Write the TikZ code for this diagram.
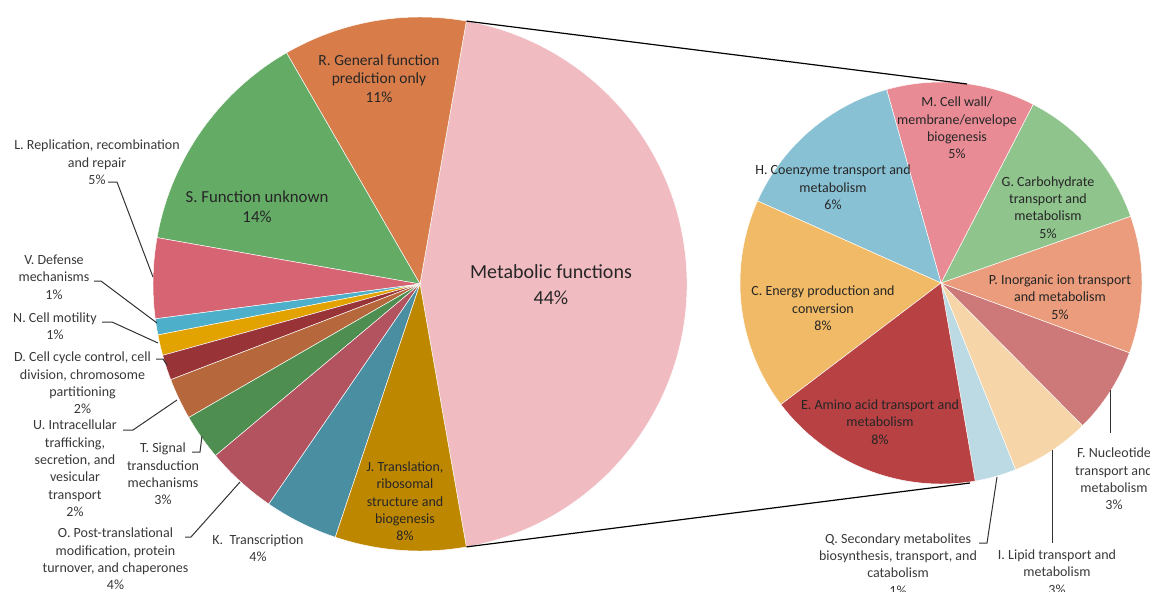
\documentclass[tikz,border=0pt]{standalone}
\usepackage{fontspec}
\setmainfont{Carlito}
\definecolor{cMet}{HTML}{F1BBC2}
\definecolor{cR}{HTML}{D87D4A}
\definecolor{cS}{HTML}{64AB66}
\definecolor{cL}{HTML}{D66472}
\definecolor{cV}{HTML}{4DAFC9}
\definecolor{cN}{HTML}{E2A300}
\definecolor{cD}{HTML}{983338}
\definecolor{cU}{HTML}{B6683C}
\definecolor{cT}{HTML}{4F8E51}
\definecolor{cO}{HTML}{B35360}
\definecolor{cK}{HTML}{4A8EA2}
\definecolor{cJ}{HTML}{BE8700}
\definecolor{cQ}{HTML}{BBDAE4}
\definecolor{cI}{HTML}{F6D5A9}
\definecolor{cF}{HTML}{CD7879}
\definecolor{cP}{HTML}{EA9C7C}
\definecolor{cG}{HTML}{8FC48D}
\definecolor{cM}{HTML}{E98B95}
\definecolor{cH}{HTML}{88C1D4}
\definecolor{cC}{HTML}{F1BA66}
\definecolor{cE}{HTML}{B84143}
\definecolor{lbl}{HTML}{383838}
\newcommand\pslice[5]{\filldraw[fill=#5, draw=white, line width=0.35pt] (#1) -- ++({-(#3)}:#2) arc[start angle={-(#3)}, end angle={-(#4)}, radius=#2] -- cycle;}
\tikzset{
  lab/.style={align=center, inner sep=0pt, text=lbl, font=\fontsize{10.5pt}{13pt}\selectfont},
  inlab/.style={align=center, inner sep=0pt, text=black!85, font=\fontsize{10.5pt}{13pt}\selectfont},
  leader/.style={draw=black!80, line width=0.75pt},
  conn/.style={draw=black, line width=0.9pt}
}
\begin{document}
\begin{tikzpicture}[x=0.75pt,y=-0.75pt]
\useasboundingbox (0,0) rectangle (1150,592);
\coordinate (C1) at (420,284);
\coordinate (C2) at (941,283);
% big pie
\pslice{C1}{267}{-80}{80}{cMet}
\pslice{C1}{267}{80}{120}{cR}
\pslice{C1}{267}{120}{170}{cS}
\pslice{C1}{267}{170}{187.5}{cL}
\pslice{C1}{267}{187.5}{191}{cV}
\pslice{C1}{267}{191}{195.5}{cN}
\pslice{C1}{267}{195.5}{201}{cD}
\pslice{C1}{267}{201}{210}{cU}
\pslice{C1}{267}{210}{220}{cT}
\pslice{C1}{267}{220}{235.5}{cO}
\pslice{C1}{267}{235.5}{251.5}{cK}
\pslice{C1}{267}{251.5}{280}{cJ}
% small pie
\pslice{C2}{201}{-80.2}{-68.2}{cQ}
\pslice{C2}{201}{-68.2}{-45.2}{cI}
\pslice{C2}{201}{-45.2}{-20.3}{cF}
\pslice{C2}{201}{-20.3}{19.4}{cP}
\pslice{C2}{201}{19.4}{62.7}{cG}
\pslice{C2}{201}{62.7}{105.7}{cM}
\pslice{C2}{201}{105.7}{155.9}{cH}
\pslice{C2}{201}{155.9}{217.2}{cC}
\pslice{C2}{201}{217.2}{279.8}{cE}
% connectors
\coordinate (bigtop) at (466.4,21.1);
\coordinate (bigbot) at (466.4,546.9);
\coordinate (smtop) at (967,84);
\coordinate (smbot) at (970,483);
\draw[conn] (bigtop) -- (smtop);
\draw[conn] (bigbot) -- (smbot);
% inside labels big pie
\node[inlab, font=\fontsize{15pt}{19.5pt}\selectfont] (met) at (551,285) {Metabolic functions\\44\%};
\node[inlab, font=\fontsize{11.6pt}{14pt}\selectfont] (rlab) at (379,78.5) {R. General function\\prediction only\\11\%};
\node[inlab, font=\fontsize{12.6pt}{15pt}\selectfont] (slab) at (257,207) {S. Function unknown\\14\%};
\node[inlab] (jlab) at (405,501.5) {J. Translation,\\ribosomal\\structure and\\biogenesis\\8\%};
% outside labels big pie
\node[lab] (klab) at (258,548.5) {K.\ \ Transcription\\4\%};
\node[lab] (llab) at (97,162.5) {L. Replication, recombination\\and repair\\5\%};
\node[lab] (vlab) at (54,277) {V. Defense\\mechanisms\\1\%};
\node[lab] (nlab) at (55,326.5) {N. Cell motility\\1\%};
\node[lab] (dlab) at (82.5,383) {D. Cell cycle control, cell\\division, chromosome\\partitioning\\2\%};
\node[lab] (ulab) at (75,468.5) {U. Intracellular\\trafficking,\\secretion, and\\vesicular\\transport\\2\%};
\node[lab] (tlab) at (163,474) {T. Signal\\transduction\\mechanisms\\3\%};
\node[lab] (olab) at (115.5,559) {O. Post-translational\\modification, protein\\turnover, and chaperones\\4\%};
% leaders big pie
\coordinate (lA) at (108,182); \coordinate (lB) at (117,182); \coordinate (lC) at (153,277);
\draw[leader] (lA) -- (lB) -- (lC);
\coordinate (vA) at (94,281); \coordinate (vB) at (101,281); \coordinate (vC) at (157,323);
\draw[leader] (vA) -- (vB) -- (vC);
\coordinate (nA) at (102,322); \coordinate (nB) at (112,322); \coordinate (nC) at (158,343);
\draw[leader] (nA) -- (nB) -- (nC);
\coordinate (dA) at (156,359); \coordinate (dB) at (163,359); \coordinate (dC) at (167,365);
\draw[leader] (dA) -- (dB) -- (dC);
\coordinate (uA) at (123,430); \coordinate (uB) at (133,430); \coordinate (uC) at (177,400);
\draw[leader] (uA) -- (uB) -- (uC);
\coordinate (tA) at (192,452); \coordinate (tB) at (200,452); \coordinate (tC) at (202,436);
\draw[leader] (tA) -- (tB) -- (tC);
\coordinate (oA) at (185,537); \coordinate (oB) at (191,537); \coordinate (oC) at (240,482);
\draw[leader] (oA) -- (oB) -- (oC);
% small pie labels
\node[inlab] (mlab) at (957,128) {M. Cell wall/\\membrane/envelope\\biogenesis\\5\%};
\node[inlab] (hlab) at (833,187.5) {H. Coenzyme transport and\\metabolism\\6\%};
\node[inlab] (glab) at (1048,207.5) {G. Carbohydrate\\transport and\\metabolism\\5\%};
\node[inlab] (plab) at (1060,297) {P. Inorganic ion transport\\and metabolism\\5\%};
\node[inlab] (clab) at (823,308.5) {C. Energy production and\\conversion\\8\%};
\node[inlab] (elab) at (880,422) {E. Amino acid transport and\\metabolism\\8\%};
\node[lab] (flab) at (1114,479) {F. Nucleotide\\transport and\\metabolism\\3\%};
\node[lab] (ilab) at (1057,572) {I. Lipid transport and\\metabolism\\3\%};
\node[lab] (qlab) at (898,564.5) {Q. Secondary metabolites\\biosynthesis, transport, and\\catabolism\\1\%};
% leaders small pie
\coordinate (fA) at (1110,433); \coordinate (fB) at (1110,390);
\draw[leader] (fA) -- (fB);
\coordinate (iA) at (1052,543); \coordinate (iB) at (1052,450);
\draw[leader] (iA) -- (iB);
\coordinate (qA) at (979,543); \coordinate (qB) at (987,543); \coordinate (qC) at (997,477);
\draw[leader] (qA) -- (qB) -- (qC);
\end{tikzpicture}
\end{document}
